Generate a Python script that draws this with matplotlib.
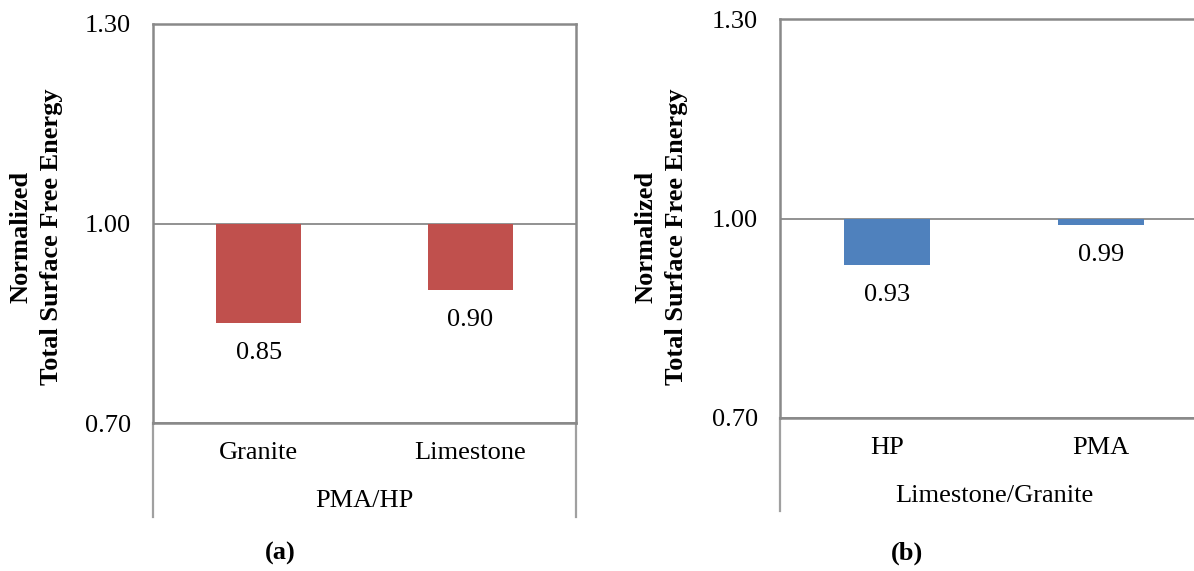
import matplotlib
matplotlib.use("Agg")
import matplotlib.pyplot as plt
from matplotlib.lines import Line2D

plt.rcParams['font.family'] = ['Liberation Serif', 'DejaVu Serif']

# panel (a): binder ratio PMA/HP for each aggregate
cats_a = ["Granite", "Limestone"]
vals_a = [0.85, 0.90]
group_a = "PMA/HP"

# panel (b): aggregate ratio Limestone/Granite for each binder
cats_b = ["HP", "PMA"]
vals_b = [0.93, 0.99]
group_b = "Limestone/Granite"

yticks = [0.70, 1.00, 1.30]
ylabel = "Normalized\nTotal Surface Free Energy"

W, H = 1194, 571
GRAY = "#898989"
FS = 19

fig = plt.figure(figsize=(W / 100, H / 100), dpi=100)


def px_axes(left, top, right, bottom):
    return fig.add_axes([left / W, 1 - bottom / H, (right - left) / W, (bottom - top) / H])


def panel(ax, cats, vals, color, group, tag, ylab_x, tag_x, ext):
    x = [i + 0.5 for i in range(len(cats))]
    ax.bar(x, [v - 1.0 for v in vals], bottom=1.0, width=0.4, color=color, zorder=3)
    for xi, v in zip(x, vals):
        ax.annotate(f"{v:.2f}", (xi, v), xytext=(0, -30), textcoords="offset pixels",
                    ha="center", va="center", fontsize=FS)
    ax.set_xlim(0, len(cats))
    ax.set_ylim(0.70, 1.30)
    ax.set_yticks(yticks)
    ax.set_yticklabels([f"{t:.2f}" for t in yticks], fontsize=FS)
    ax.tick_params(axis="y", length=0, pad=16)
    ax.set_xticks(x)
    ax.set_xticklabels(cats, fontsize=FS)
    ax.tick_params(axis="x", length=0, pad=14)
    ax.yaxis.grid(True, color=GRAY, lw=1.3, zorder=1)
    for s in ax.spines.values():
        s.set_color(GRAY)
        s.set_linewidth(1.8)
    # vertical divider lines of the two-level category axis
    for xe in (0, 1):
        ax.add_line(Line2D([xe, xe], [0, -ext], transform=ax.transAxes, color="#a0a0a0",
                           lw=1.6, clip_on=False))
    ax.text(0.5, -0.195, group, transform=ax.transAxes, ha="center", va="center", fontsize=FS)
    fig.text(ylab_x / W, 1 - 237 / H, ylabel, rotation=90, ha="center", va="center",
             fontsize=FS, fontweight="bold", linespacing=1.4)
    fig.text(tag_x / W, 1 - 553 / H, tag, ha="center", va="center", fontsize=FS,
             fontweight="bold")


ax1 = px_axes(153, 24, 576, 423)
panel(ax1, cats_a, vals_a, "#C0504D", group_a, "(a)", 36, 280, 94 / 399)

ax2 = px_axes(780, 19, 1208, 418)
panel(ax2, cats_b, vals_b, "#4F81BD", group_b, "(b)", 661, 907, 93 / 399)

fig.savefig("out.png", dpi=100)
